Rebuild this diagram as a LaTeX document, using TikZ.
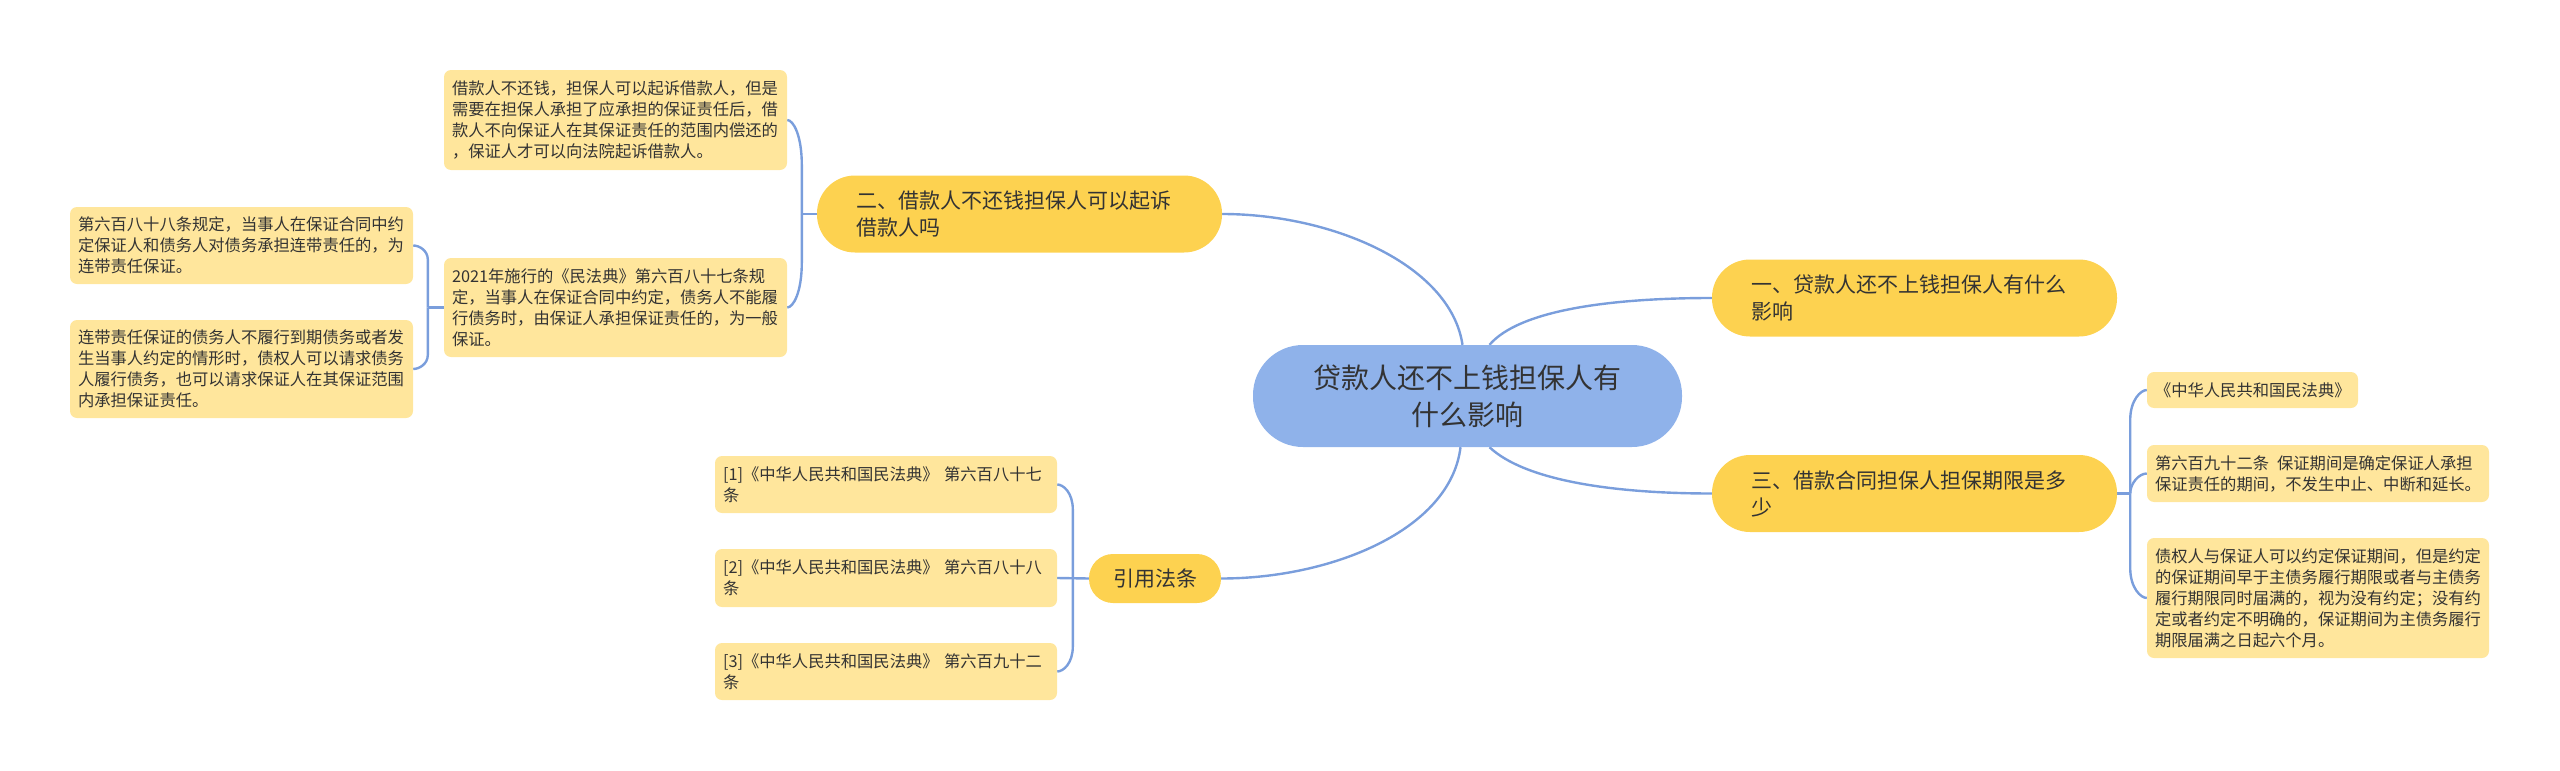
\documentclass[tikz,border=0pt]{standalone}
\usepackage{fontspec}
\setmainfont{Noto Sans CJK SC}
\usetikzlibrary{calc,backgrounds}
\definecolor{cfill}{RGB}{143,178,234}
\definecolor{bfill}{RGB}{253,210,80}
\definecolor{lfill}{RGB}{255,230,156}
\definecolor{lnk}{RGB}{122,158,220}
\definecolor{txt}{RGB}{51,51,51}
\begin{document}
\begin{tikzpicture}[x=1pt,y=-1pt,
  link/.style={draw=lnk,line width=2.4pt},
  rootnode/.style={fill=cfill,rounded corners=50pt,minimum width=429pt,minimum height=102pt,align=center,text=txt,font=\fontsize{28}{37}\selectfont,inner sep=0pt},
  branchnode/.style={fill=bfill,rounded corners=38pt,minimum height=77pt,text width=327pt,inner xsep=39pt,inner ysep=0pt,align=left,text=txt,font=\fontsize{21}{27}\selectfont},
  smallbranch/.style={fill=bfill,rounded corners=24pt,minimum height=49pt,minimum width=132pt,inner sep=0pt,align=center,text=txt,font=\fontsize{21}{27}\selectfont},
  leafnode/.style={fill=lfill,rounded corners=7pt,text width=327pt,inner xsep=8pt,inner ysep=0pt,align=left,text=txt,font=\fontsize{16.3}{21}\selectfont},
]
\useasboundingbox (0,0) rectangle (2560,771);

% root
\node[rootnode] (c) at (1467.5,396) {贷款人还不上钱担保人有\\什么影响};

% branches
\node[branchnode] (b1) at (1914.5,298) {一、贷款人还不上钱担保人有什么\\影响};
\node[branchnode] (b2) at (1019.5,214) {二、借款人不还钱担保人可以起诉\\借款人吗};
\node[branchnode] (b3) at (1914.5,493.5) {三、借款合同担保人担保期限是多\\少};
\node[smallbranch] (b4) at (1155,578.5) {引用法条};

% leaves of branch 2
\node[leafnode,minimum height=100pt] (A) at (615.5,120) {借款人不还钱，担保人可以起诉借款人，但是\\需要在担保人承担了应承担的保证责任后，借\\款人不向保证人在其保证责任的范围内偿还的\\，保证人才可以向法院起诉借款人。};
\node[leafnode,minimum height=99pt] (B) at (615.5,307.5) {2021年施行的《民法典》第六百八十七条规\\定，当事人在保证合同中约定，债务人不能履\\行债务时，由保证人承担保证责任的，为一般\\保证。};
\node[leafnode,minimum height=77pt] (C) at (241.5,245.5) {第六百八十八条规定，当事人在保证合同中约\\定保证人和债务人对债务承担连带责任的，为\\连带责任保证。};
\node[leafnode,minimum height=98pt] (D) at (241.5,369) {连带责任保证的债务人不履行到期债务或者发\\生当事人约定的情形时，债权人可以请求债务\\人履行债务，也可以请求保证人在其保证范围\\内承担保证责任。};

% references
\node[leafnode,minimum height=57pt,text width=326pt] (R1) at (886,484.5) {[1]《中华人民共和国民法典》 第六百八十七\\条};
\node[leafnode,minimum height=58pt,text width=326pt] (R2) at (886,578) {[2]《中华人民共和国民法典》 第六百八十八\\条};
\node[leafnode,minimum height=57pt,text width=326pt] (R3) at (886,671.5) {[3]《中华人民共和国民法典》 第六百九十二\\条};

% leaves of branch 3
\node[leafnode,minimum height=36pt,text width=195pt] (L1) at (2252.5,390) {《中华人民共和国民法典》};
\node[leafnode,minimum height=57pt,text width=326pt] (L2) at (2318,473.5) {第六百九十二条\hspace{8pt}保证期间是确定保证人承担\\保证责任的期间，不发生中止、中断和延长。};
\node[leafnode,minimum height=120pt,text width=326pt] (L3) at (2318,598) {债权人与保证人可以约定保证期间，但是约定\\的保证期间早于主债务履行期限或者与主债务\\履行期限同时届满的，视为没有约定；没有约\\定或者约定不明确的，保证期间为主债务履行\\期限届满之日起六个月。};

\begin{scope}[on background layer]
% root to branches
\draw[link] (b2.east) .. controls ($(b2.east)+(110,0)$) and ($(c.north)+(-17,-80)$) .. ($(c.north)+(-5,0)$);
\draw[link] ($(c.north)+(22,0)$) .. controls ($(c.north)+(52,-35)$) and ($(b1.west)+(-100,0)$) .. (b1.west);
\draw[link] ($(c.south)+(22,0)$) .. controls ($(c.south)+(57,33)$) and ($(b3.west)+(-100,0)$) .. (b3.west);
\draw[link] ($(c.south)+(-7,0)$) .. controls ($(c.south)+(-17,83)$) and ($(b4.east)+(110,0)$) .. (b4.east);

% branch 2 bracket
\coordinate (j2) at ($(b2.west)+(-15,0)$);
\draw[link] (b2.west) -- (j2);
\draw[link] (j2) -- ($(j2|-A.east)+(0,45)$) .. controls ($(j2|-A.east)+(0,15)$) and ($(A.east)+(6,0)$) .. (A.east);
\draw[link] (j2) -- ($(j2|-B.east)+(0,-45)$) .. controls ($(j2|-B.east)+(0,-15)$) and ($(B.east)+(6,0)$) .. (B.east);

% leaf B bracket
\coordinate (jB) at ($(B.west)+(-16,0)$);
\draw[link] (B.west) -- (jB);
\draw[link] (jB) -- ($(jB|-C.east)+(0,14)$) .. controls ($(jB|-C.east)+(0,5)$) and ($(C.east)+(6,0)$) .. (C.east);
\draw[link] (jB) -- ($(jB|-D.east)+(0,-14)$) .. controls ($(jB|-D.east)+(0,-5)$) and ($(D.east)+(6,0)$) .. (D.east);

% references bracket
\coordinate (jR) at ($(b4.west)+(-16,0)$);
\draw[link] (b4.west) -- (R2.east);
\draw[link] (jR) -- ($(jR|-R1.east)+(0,25)$) .. controls ($(jR|-R1.east)+(0,8)$) and ($(R1.east)+(6,0)$) .. (R1.east);
\draw[link] (jR) -- ($(jR|-R3.east)+(0,-25)$) .. controls ($(jR|-R3.east)+(0,-8)$) and ($(R3.east)+(6,0)$) .. (R3.east);

% branch 3 bracket
\coordinate (j3) at ($(b3.east)+(13,0)$);
\draw[link] (b3.east) -- (j3);
\draw[link] (j3) -- ($(j3|-L1.west)+(0,30)$) .. controls ($(j3|-L1.west)+(0,10)$) and ($(L1.west)+(-6,0)$) .. (L1.west);
\draw[link] (j3) .. controls ($(j3)+(0,-10)$) and ($(L2.west)+(-8,0)$) .. (L2.west);
\draw[link] (j3) -- ($(j3|-L3.west)+(0,-30)$) .. controls ($(j3|-L3.west)+(0,-10)$) and ($(L3.west)+(-6,0)$) .. (L3.west);
\end{scope}
\end{tikzpicture}
\end{document}
